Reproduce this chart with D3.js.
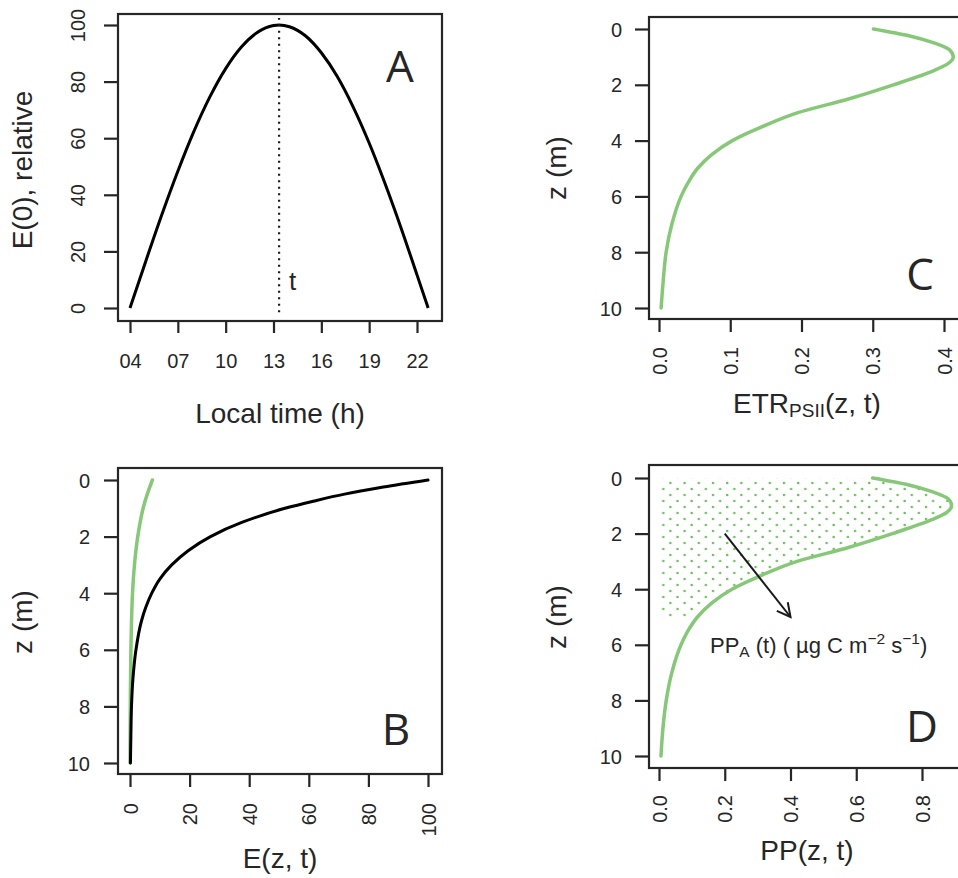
<!DOCTYPE html>
<html>
<head>
<meta charset="utf-8">
<script src="https://cdn.jsdelivr.net/npm/d3@7"></script>
<style>
  html, body { margin: 0; padding: 0; background: #fff; }
  svg { display: block; }
  text { font-family: "Liberation Sans", Arial, Helvetica, sans-serif; fill: #262626; }
</style>
</head>
<body>
<script>
// ---------------- DATA ----------------
// Panel A: surface irradiance through the day
const timeHours = [4, 5, 6, 7, 8, 9, 10, 11, 12, 13, 13.35, 14, 15, 16, 17, 18, 19, 20, 21, 22, 22.7];
const surfaceE  = [0, 16.7, 33, 48.3, 62.3, 74.5, 84.6, 92.3, 97.4, 99.8, 100, 99.4, 96.2, 90.2, 81.8, 71, 58.3, 43.9, 28.3, 11.7, 0];
const timeTickValues = [4, 7, 10, 13, 16, 19, 22];
const timeTickLabels = ["04", "07", "10", "13", "16", "19", "22"];
const markedTime = 13.35;

// Panel B: irradiance with depth (black) and absorbed (green)
const depthB     = [0, 0.25, 0.5, 0.75, 1, 1.5, 2, 2.5, 3, 3.5, 4, 4.5, 5, 6, 7, 8, 9, 10];
const irradiance = [100, 85, 72, 61.5, 52, 37.5, 27, 19.5, 14, 10, 7.3, 5.3, 3.8, 2, 1, 0.5, 0.3, 0.15];
const depthBg    = [0, 0.5, 1, 1.5, 2, 3, 4, 5, 6, 8, 10];
const absorbedE  = [7.5, 5.8, 4.4, 3.4, 2.6, 1.5, 0.85, 0.5, 0.3, 0.1, 0.03];

// Panels C & D: ETR and primary production profiles
const depthCD  = [0, 0.25, 0.5, 0.75, 1, 1.25, 1.5, 2, 2.5, 3, 3.5, 4, 4.5, 5, 5.5, 6, 7, 8, 9, 10];
const etrPSII  = [0.301, 0.352, 0.386, 0.408, 0.413, 0.405, 0.385, 0.329, 0.267, 0.195, 0.145, 0.103, 0.074, 0.054, 0.041, 0.031, 0.018, 0.010, 0.006, 0.003];
const primProd = [0.65, 0.76, 0.833, 0.88, 0.89, 0.874, 0.83, 0.71, 0.576, 0.42, 0.312, 0.222, 0.16, 0.117, 0.088, 0.067, 0.039, 0.022, 0.012, 0.006];
const ppAreaMaxDepth = 5;

const depthTicks = [0, 2, 4, 6, 8, 10];
const eTicks = [0, 20, 40, 60, 80, 100];
const etrTicks = [0, 0.1, 0.2, 0.3, 0.4];
const ppTicks = [0, 0.2, 0.4, 0.6, 0.8];

// ---------------- DRAWING ----------------
const W = 958, H = 878;
const GREEN = "#86c878";
const DOT = "#6fbf5f";
const INK = "#262626";
const svg = d3.select("body").append("svg").attr("width", W).attr("height", H);

const defs = svg.append("defs");
const pat = defs.append("pattern").attr("id", "dots")
  .attr("patternUnits", "userSpaceOnUse").attr("width", 14.2).attr("height", 12);
pat.append("circle").attr("cx", 3).attr("cy", 3).attr("r", 1.3).attr("fill", DOT);
pat.append("circle").attr("cx", 10.1).attr("cy", 9).attr("r", 1.3).attr("fill", DOT);

function box(b) {
  svg.append("rect").attr("x", b.l).attr("y", b.t).attr("width", b.r - b.l).attr("height", b.b - b.t)
    .attr("fill", "none").attr("stroke", INK).attr("stroke-width", 2.2);
}
function styleAxis(g) {
  g.select(".domain").remove();
  g.selectAll(".tick line").attr("stroke", INK).attr("stroke-width", 2.2);
  g.selectAll(".tick text").attr("font-size", 20).attr("fill", INK)
    .style("font-family", '"Liberation Sans", Arial, sans-serif');
}
function bottomAxisRotated(x, ticks, fmt, b, labelTop) {
  const g = svg.append("g").attr("transform", `translate(0,${b.b})`)
    .call(d3.axisBottom(x).tickValues(ticks).tickSize(13).tickFormat(fmt));
  styleAxis(g);
  g.selectAll(".tick text").attr("x", 0).attr("y", 0).attr("dy", "0.35em")
    .attr("text-anchor", "end")
    .attr("transform", `translate(0,${labelTop - b.b}) rotate(-90)`);
}
function leftAxisHoriz(y, ticks, b, labelRight) {
  const g = svg.append("g").attr("transform", `translate(${b.l},0)`)
    .call(d3.axisLeft(y).tickValues(ticks).tickSize(14).tickFormat(d3.format("d")));
  styleAxis(g);
  g.selectAll(".tick text").attr("x", labelRight - b.l).attr("dy", "0.35em").attr("text-anchor", "end");
}
function yTitle(txt, xBase, yc) {
  svg.append("text").attr("transform", `translate(${xBase},${yc}) rotate(-90)`)
    .attr("text-anchor", "middle").attr("font-size", 28).text(txt);
}
function panelLetter(txt, x, y) {
  svg.append("text").attr("x", x).attr("y", y).attr("text-anchor", "middle")
    .style("font-family", '"Open Sans", "Noto Sans", sans-serif')
    .attr("font-size", 44).attr("fill", "#111").text(txt);
}

// ---- Panel A ----
const bA = { l: 118, t: 14, r: 442, b: 321 };
const xA = d3.scaleLinear().domain([4, 22]).range([130, 417]);
const yA = d3.scaleLinear().domain([0, 100]).range([308, 25]);
box(bA);
svg.append("path").datum(timeHours.map((t, i) => [t, surfaceE[i]]))
  .attr("d", d3.line().x(d => xA(d[0])).y(d => yA(d[1])).curve(d3.curveMonotoneX))
  .attr("fill", "none").attr("stroke", "#000").attr("stroke-width", 3);
svg.append("line").attr("x1", xA(markedTime)).attr("x2", xA(markedTime))
  .attr("y1", yA(-1.5)).attr("y2", yA(102.5))
  .attr("stroke", "#1a1a1a").attr("stroke-width", 2.2).attr("stroke-dasharray", "2,4.5");
svg.append("text").attr("x", xA(markedTime) + 10).attr("y", yA(6.5)).attr("font-size", 26).text("t");
{
  const g = svg.append("g").attr("transform", `translate(0,${bA.b})`)
    .call(d3.axisBottom(xA).tickValues(timeTickValues).tickSize(12)
      .tickFormat((d, i) => timeTickLabels[i]));
  styleAxis(g);
  g.selectAll(".tick text").attr("y", 368 - bA.b).attr("dy", 0);
  const gl = svg.append("g").attr("transform", `translate(${bA.l},0)`)
    .call(d3.axisLeft(yA).tickValues([0, 20, 40, 60, 80, 100]).tickSize(14));
  styleAxis(gl);
  gl.selectAll(".tick text").attr("x", 0).attr("y", 0).attr("dy", 0).attr("text-anchor", "middle")
    .attr("transform", `translate(${85 - bA.l},0) rotate(-90)`);
}
svg.append("text").attr("x", (bA.l + bA.r) / 2).attr("y", 423).attr("text-anchor", "middle")
  .attr("font-size", 28).text("Local time (h)");
yTitle("E(0), relative", 32, 170);
panelLetter("A", 400, 82);

// ---- Panel B ----
const bB = { l: 118, t: 468, r: 442, b: 774 };
const xB = d3.scaleLinear().domain([0, 100]).range([130, 428]);
const yB = d3.scaleLinear().domain([0, 10]).range([480, 763]);
box(bB);
svg.append("path").datum(depthBg.map((z, i) => [absorbedE[i], z]))
  .attr("d", d3.line().x(d => xB(d[0])).y(d => yB(d[1])).curve(d3.curveMonotoneY))
  .attr("fill", "none").attr("stroke", GREEN).attr("stroke-width", 3.5).attr("stroke-linecap", "round");
svg.append("path").datum(depthB.map((z, i) => [irradiance[i], z]))
  .attr("d", d3.line().x(d => xB(d[0])).y(d => yB(d[1])).curve(d3.curveMonotoneY))
  .attr("fill", "none").attr("stroke", "#000").attr("stroke-width", 3).attr("stroke-linecap", "round");
bottomAxisRotated(xB, eTicks, d3.format("d"), bB, 803);
leftAxisHoriz(yB, depthTicks, bB, 90);
svg.append("text").attr("x", (bB.l + bB.r) / 2).attr("y", 868).attr("text-anchor", "middle")
  .attr("font-size", 28).text("E(z, t)");
yTitle("z (m)", 32, 622);
panelLetter("B", 396, 745);

// ---- Panel C ----
const bC = { l: 649, t: 17, r: 964, b: 319 };
const xC = d3.scaleLinear().domain([0, 0.4]).range([659, 944]);
const yC = d3.scaleLinear().domain([0, 10]).range([29, 308]);
box(bC);
svg.append("path").datum(depthCD.map((z, i) => [etrPSII[i], z]))
  .attr("d", d3.line().x(d => xC(d[0])).y(d => yC(d[1])).curve(d3.curveMonotoneY))
  .attr("fill", "none").attr("stroke", GREEN).attr("stroke-width", 3.5).attr("stroke-linecap", "round");
bottomAxisRotated(xC, etrTicks, d3.format(".1f"), bC, 347);
leftAxisHoriz(yC, depthTicks, bC, 622);
{
  const t = svg.append("text").attr("x", 807).attr("y", 413).attr("text-anchor", "middle").attr("font-size", 28);
  t.append("tspan").text("ETR");
  t.append("tspan").attr("font-size", 19).attr("dy", 4).text("PSII");
  t.append("tspan").attr("dy", -4).text("(z, t)");
}
yTitle("z (m)", 566, 168);
panelLetter("C", 920, 290);

// ---- Panel D ----
const bD = { l: 649, t: 465, r: 964, b: 768 };
const xD = d3.scaleLinear().domain([0, 0.8]).range([659, 922]);
const yD = d3.scaleLinear().domain([0, 10]).range([478, 756]);
box(bD);
const ppRows = depthCD.map((z, i) => ({ z, v: primProd[i] }));
svg.append("path").datum(ppRows.filter(d => d.z <= ppAreaMaxDepth))
  .attr("d", d3.area().y(d => yD(d.z)).x0(xD(0)).x1(d => xD(d.v)).curve(d3.curveMonotoneY))
  .attr("fill", "url(#dots)").attr("stroke", "none");
svg.append("path").datum(ppRows)
  .attr("d", d3.line().x(d => xD(d.v)).y(d => yD(d.z)).curve(d3.curveMonotoneY))
  .attr("fill", "none").attr("stroke", GREEN).attr("stroke-width", 3.5).attr("stroke-linecap", "round");
{
  const x1 = xD(0.2), y1 = yD(2), x2 = xD(0.4), y2 = yD(5);
  svg.append("line").attr("x1", x1).attr("y1", y1).attr("x2", x2).attr("y2", y2)
    .attr("stroke", "#1a1a1a").attr("stroke-width", 2);
  const ang = Math.atan2(y2 - y1, x2 - x1), len = 15, spread = Math.PI / 6.5;
  const p = [ang + Math.PI - spread, ang + Math.PI + spread]
    .map(a => [x2 + len * Math.cos(a), y2 + len * Math.sin(a)]);
  svg.append("path").attr("d", `M${p[0][0]},${p[0][1]}L${x2},${y2}L${p[1][0]},${p[1][1]}`)
    .attr("fill", "none").attr("stroke", "#1a1a1a").attr("stroke-width", 2);
}
{
  const t = svg.append("text").attr("x", xD(0.155)).attr("y", yD(6.3)).attr("font-size", 22)
    .attr("fill", "#333").attr("xml:space", "preserve").style("white-space", "pre");
  t.append("tspan").text("PP");
  t.append("tspan").attr("font-size", 15.5).attr("dy", 4).text("A");
  t.append("tspan").attr("dy", -4).text(" (t) ( \u00B5g C m");
  t.append("tspan").attr("font-size", 15.5).attr("dy", -9).text("\u22122");
  t.append("tspan").attr("dy", 9).text(" s");
  t.append("tspan").attr("font-size", 15.5).attr("dy", -9).text("\u22121");
  t.append("tspan").attr("dy", 9).text(")");
}
bottomAxisRotated(xD, ppTicks, d3.format(".1f"), bD, 795);
leftAxisHoriz(yD, depthTicks, bD, 622);
svg.append("text").attr("x", 807).attr("y", 860).attr("text-anchor", "middle")
  .attr("font-size", 28).text("PP(z, t)");
yTitle("z (m)", 566, 617);
panelLetter("D", 922, 742);
</script>
</body>
</html>
